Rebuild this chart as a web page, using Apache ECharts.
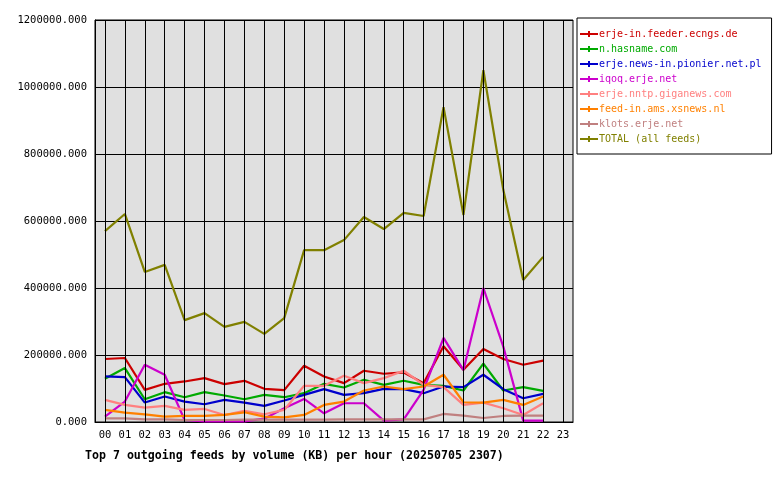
<!DOCTYPE html><html><head><meta charset="utf-8">
<script src="https://cdn.jsdelivr.net/npm/echarts@6/dist/echarts.min.js"></script>
<style>html,body{margin:0;background:#fff}#c{width:780px;height:480px}</style></head><body><div id="c"></div>
<script>
const hours=['00','01','02','03','04','05','06','07','08','09','10','11','12','13','14','15','16','17','18','19','20','21','22','23'];
const yTicks=[0,200000,400000,600000,800000,1000000,1200000];
const names=['erje-in.feeder.ecngs.de','n.hasname.com','erje.news-in.pionier.net.pl','iqoq.erje.net','erje.nntp.giganews.com','feed-in.ams.xsnews.nl','klots.erje.net','TOTAL (all feeds)'];
const colors=['#cc0000','#00aa00','#0000cc','#cc00cc','#ff8080','#ff8000','#c08080','#808000'];
const sRed=[188000,191000,96000,114000,121000,131000,113000,123000,99000,95000,168000,136000,116000,153000,144000,148000,116000,226000,156000,218000,188000,171000,183000];
const sGreen=[129000,161000,68000,89000,74000,89000,79000,68000,81000,74000,86000,114000,103000,126000,111000,123000,111000,108000,94000,174000,94000,104000,93000];
const sBlue=[136000,134000,58000,76000,61000,53000,66000,58000,48000,64000,81000,98000,81000,86000,99000,98000,86000,106000,104000,141000,98000,71000,84000];
const sMagenta=[16000,61000,171000,141000,6000,2000,2000,2000,10000,41000,69000,26000,56000,56000,4000,8000,96000,251000,155000,400000,225000,4000,4000];
const sSalmon=[66000,51000,43000,48000,36000,39000,21000,33000,23000,36000,108000,108000,138000,116000,131000,153000,111000,104000,51000,58000,41000,21000,56000];
const sOrange=[36000,28000,23000,16000,18000,18000,21000,29000,16000,14000,21000,51000,61000,94000,106000,98000,106000,141000,59000,58000,66000,51000,76000];
const sKlots=[11000,11000,8000,8000,6000,6000,6000,7000,7000,7000,7000,7000,8000,8000,8000,8000,8000,24000,19000,12000,18000,19000,19000];
const sTotal=[570000,621000,448000,469000,304000,325000,284000,299000,263000,310000,513000,513000,543000,612000,576000,624000,615000,940000,618000,1050000,693000,424000,493000];
const data=[sRed,sGreen,sBlue,sMagenta,sSalmon,sOrange,sKlots,sTotal];
const font='DejaVu Sans Mono';
const series=data.map((d,i)=>({name:names[i],type:'line',data:d,symbol:'none',lineStyle:{width:2.2,color:colors[i]},itemStyle:{color:colors[i]},z:3}));
series.push({type:'line',data:[],markLine:{silent:true,symbol:'none',label:{show:false},lineStyle:{color:'#000',type:'solid',width:1},data:hours.map(h=>({xAxis:h}))},z:1});
const chart=echarts.init(document.getElementById('c'));
chart.setOption({
 animation:false,
 grid:{left:95,right:207,top:20,bottom:58,backgroundColor:'#e0e0e0',show:true,borderColor:'#000',borderWidth:1},
 title:{text:'Top 7 outgoing feeds by volume (KB) per hour (20250705 2307)',left:80,top:445,textStyle:{fontFamily:font,fontSize:11.6,fontWeight:'bold',color:'#000'}},
 legend:{orient:'vertical',left:577,top:18,itemWidth:18,itemHeight:6,itemGap:5,padding:[11,10,10,3],borderColor:'#000',borderWidth:1,
   data:names.map((n,i)=>({name:n,textStyle:{color:colors[i]}})),icon:'path://M0,2h8v-2h2v2h8v2h-8v2h-2v-2h-8z',
   textStyle:{fontFamily:font,fontSize:10,padding:[0,0,0,-4]}},
 xAxis:{type:'category',data:hours,boundaryGap:true,axisLine:{lineStyle:{color:'#000'}},axisTick:{show:false},
   axisLabel:{fontFamily:font,fontSize:10.5,color:'#000',interval:0}},
 yAxis:{type:'value',min:0,max:1200000,interval:200000,axisLine:{show:true,lineStyle:{color:'#000'}},axisTick:{show:false},
   splitLine:{lineStyle:{color:'#000',width:1}},
   axisLabel:{fontFamily:font,fontSize:10.5,color:'#000',formatter:v=>v.toFixed(3)}},
 series:series
});
</script></body></html>
